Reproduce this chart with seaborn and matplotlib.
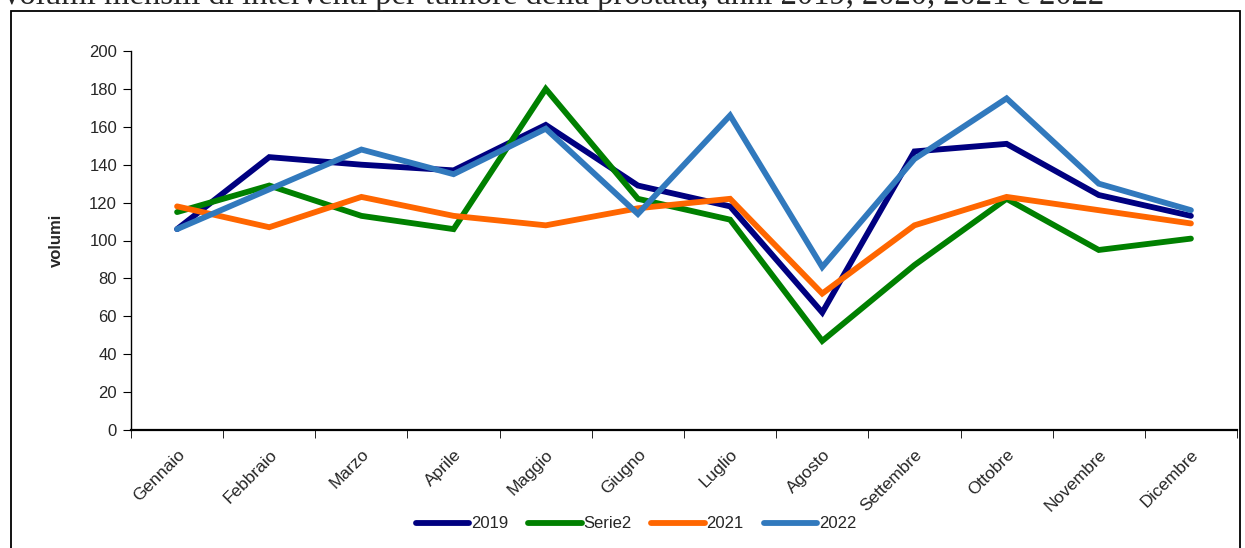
import numpy as np
import pandas as pd
import matplotlib.pyplot as plt
import matplotlib.patches as mpatches
import seaborn as sns

mesi = ["Gennaio", "Febbraio", "Marzo", "Aprile", "Maggio", "Giugno",
        "Luglio", "Agosto", "Settembre", "Ottobre", "Novembre", "Dicembre"]
serie_nomi = ["2019", "Serie2", "2021", "2022"]
v2019 = [106, 144, 140, 137, 161, 129, 118, 62, 147, 151, 124, 113]
v2020 = [115, 129, 113, 106, 180, 122, 111, 47, 87, 122, 95, 101]
v2021 = [118, 107, 123, 113, 108, 117, 122, 72, 108, 123, 116, 109]
v2022 = [106, 127, 148, 135, 159, 114, 166, 86, 143, 175, 130, 116]
colori = ["#000080", "#008000", "#FF6600", "#3179BD"]

df = pd.DataFrame({
    "x": list(range(len(mesi))) * 4,
    "volumi": v2019 + v2020 + v2021 + v2022,
    "serie": sum([[s] * len(mesi) for s in serie_nomi], []),
})

sns.set_style("white")
plt.rcParams['font.family'] = ['Liberation Sans', 'DejaVu Sans']

fig = plt.figure(figsize=(12.45, 5.48), dpi=100)
ax = fig.add_axes([131 / 1245, 1 - 430 / 548, (1237 - 131) / 1245, (430 - 51) / 548])

sns.lineplot(data=df, x="x", y="volumi", hue="serie", hue_order=serie_nomi,
             palette=colori, linewidth=4.2, ax=ax, legend=True)
for ln in ax.lines:
    ln.set_solid_capstyle("round")
    ln.set_solid_joinstyle("miter")

ax.set_xlim(-0.5, 11.5)
ax.set_ylim(0, 200)
ax.set_yticks(np.arange(0, 201, 20))
ax.set_xticks(range(len(mesi)))
ax.set_xticklabels(mesi, rotation=45, ha="right", rotation_mode="anchor", fontsize=12.5)
ax.set_xticks(np.arange(-0.5, 12, 1), minor=True)
ax.tick_params(axis="x", which="major", length=0, pad=12)
ax.tick_params(axis="x", which="minor", length=6, direction="out", color="black", bottom=True)
ax.tick_params(axis="y", length=6, direction="out", color="black", left=True, labelsize=12, pad=4)
ax.set_xlabel("")
ax.set_ylabel("volumi", fontsize=12, fontweight="bold", labelpad=18)
for s in ["top", "right"]:
    ax.spines[s].set_visible(False)
for s in ["left", "bottom"]:
    ax.spines[s].set_color("black")
    ax.spines[s].set_linewidth(1.0)
ax.spines["bottom"].set_linewidth(1.6)

h, l = ax.get_legend_handles_labels()
leg = ax.legend(h, l, loc="center", bbox_to_anchor=(636 / 1245, 1 - 524 / 548),
                bbox_transform=fig.transFigure, ncol=4, frameon=False, fontsize=12,
                handlelength=3.2, handletextpad=0.1, columnspacing=1.2)
for ln in leg.get_lines():
    ln.set_solid_capstyle("round")
    ln.set_linewidth(4.2)

fig.patches.append(mpatches.Rectangle((11 / 1245, -0.1), (1240 - 11) / 1245, 1.1 - 11 / 548,
                                      transform=fig.transFigure, fill=False,
                                      edgecolor="black", linewidth=1.3))
fig.text(0.0, 1 - 4 / 548, "Volumi mensili di interventi per tumore della prostata, anni 2019, 2020, 2021 e 2022",
         family="Liberation Serif", fontsize=23.5, va="baseline", ha="left")

fig.savefig("out.png", dpi=100)
